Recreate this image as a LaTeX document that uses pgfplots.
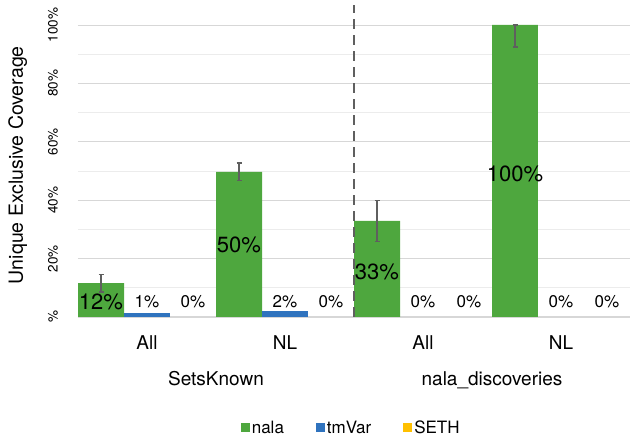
\documentclass[border=0pt]{standalone}
\usepackage{pgfplots}
\pgfplotsset{compat=1.18}
\usepackage{fontspec}
\setmainfont{TeX Gyre Heros}
\definecolor{nala}{RGB}{78,167,62}
\definecolor{tmvar}{RGB}{47,115,190}
\definecolor{seth}{RGB}{255,192,0}
\definecolor{gridmaj}{RGB}{215,215,215}
\definecolor{gridmin}{RGB}{236,236,236}
\definecolor{errc}{RGB}{95,95,95}
\begin{document}
\begin{tikzpicture}[x=1pt,y=1pt]
\useasboundingbox (-78,-119) rectangle (555,317);
\begin{axis}[
  at={(0,0)}, anchor=south west,
  scale only axis, width=552pt, height=292pt,
  xmin=-0.5, xmax=3.5, ymin=0, ymax=100,
  clip=false,
  axis lines*=left,
  y axis line style={draw=none},
  x axis line style={draw=gridmaj, line width=1pt},
  xtick={0,1,2,3}, xticklabels={All,NL,All,NL},
  ytick={0,20,40,60,80,100}, yticklabels={\%,20\%,40\%,60\%,80\%,100\%},
  minor ytick={10,30,50,70,90},
  ymajorgrids, yminorgrids,
  major grid style={gridmaj, line width=0.8pt},
  minor grid style={gridmin, line width=0.8pt},
  major tick length=0pt, minor tick length=0pt,
  /pgf/number format/assume math mode=true,
  xticklabel style={font=\fontsize{19}{22}\selectfont, anchor=north, inner sep=0pt},
  xticklabel shift=18pt,
  yticklabel style={font=\fontsize{13.5}{15}\selectfont, rotate=90, anchor=south, inner sep=0pt},
  yticklabel shift=20pt,
  ylabel={Unique Exclusive Coverage},
  ylabel style={font=\fontsize{19.5}{22}\selectfont, at={(axis description cs:-0.109,0.52)}, anchor=center},
  legend columns=3,
  legend style={at={(0.495,-0.38)}, anchor=center, draw=none, fill=none,
    font=\fontsize{17}{20}\selectfont,
    /tikz/every even column/.append style={column sep=30pt}},
  legend image code/.code={\fill[#1] (0pt,-4.5pt) rectangle (9pt,4.5pt);},
]
% nala (bars placed at the left third of each category)
\addplot[ybar, bar width=0.3333, bar shift=0, fill=nala, draw=none,
  error bars/.cd, y dir=both, y explicit, error mark=-,
  error bar style={errc, line width=1.3pt},
  error mark options={errc, line width=1.3pt, mark size=2.5pt, rotate=90}]
  coordinates {(-0.3333,11.6) +- (0,3) (0.6667,49.7) +- (0,3) (1.6667,32.9) +- (0,7) (2.6667,100) += (0,0) -= (0,7.5)};
\addlegendentry{nala}
% tmVar (centre third)
\addplot[ybar, bar width=0.3333, bar shift=0, fill=tmvar, draw=none,
  y filter/.expression={y==0 ? nan : y}, unbounded coords=discard]
  coordinates {(0,1.3) (1,2.0) (2,0) (3,0)};
\addlegendentry{tmVar}
% SETH (right third), all zero
\addplot[ybar, bar width=0.3333, bar shift=0, fill=none, draw=none,
  legend image code/.code={\fill[seth] (0pt,-4.5pt) rectangle (9pt,4.5pt);}]
  coordinates {(0.3333,0) (1.3333,0) (2.3333,0) (3.3333,0)};
\addlegendentry{SETH}
% separator
\addplot[forget plot, color=errc, dash pattern=on 10pt off 6pt, line width=2.5pt]
  coordinates {(1.5,0) (1.5,107)};
% big labels
\addplot[forget plot, draw=none, mark=none, nodes near coords, point meta=explicit symbolic,
  every node near coord/.style={anchor=center, font=\fontsize{22}{24}\selectfont, inner sep=0pt, text=black}]
  coordinates {(-0.3333,5.1)[12\%] (0.6667,24.7)[50\%] (1.6667,15.4)[33\%] (2.6667,49)[100\%]};
% small labels
\addplot[forget plot, draw=none, mark=none, nodes near coords, point meta=explicit symbolic,
  every node near coord/.style={anchor=center, font=\fontsize{17}{20}\selectfont, inner sep=0pt, text=black}]
  coordinates {(0,5.1)[1\%] (0.3333,5.1)[0\%] (1,5.1)[2\%] (1.3333,5.1)[0\%]
               (2,5.1)[0\%] (2.3333,5.1)[0\%] (3,5.1)[0\%] (3.3333,5.1)[0\%]};
\node[font=\fontsize{19}{22}\selectfont, anchor=north, inner sep=0pt, yshift=-54pt] at (axis cs:0.5,0) {SetsKnown};
\node[font=\fontsize{19}{22}\selectfont, anchor=north, inner sep=0pt, yshift=-54pt] at (axis cs:2.5,0) {nala\_discoveries};
\end{axis}
\end{tikzpicture}
\end{document}
